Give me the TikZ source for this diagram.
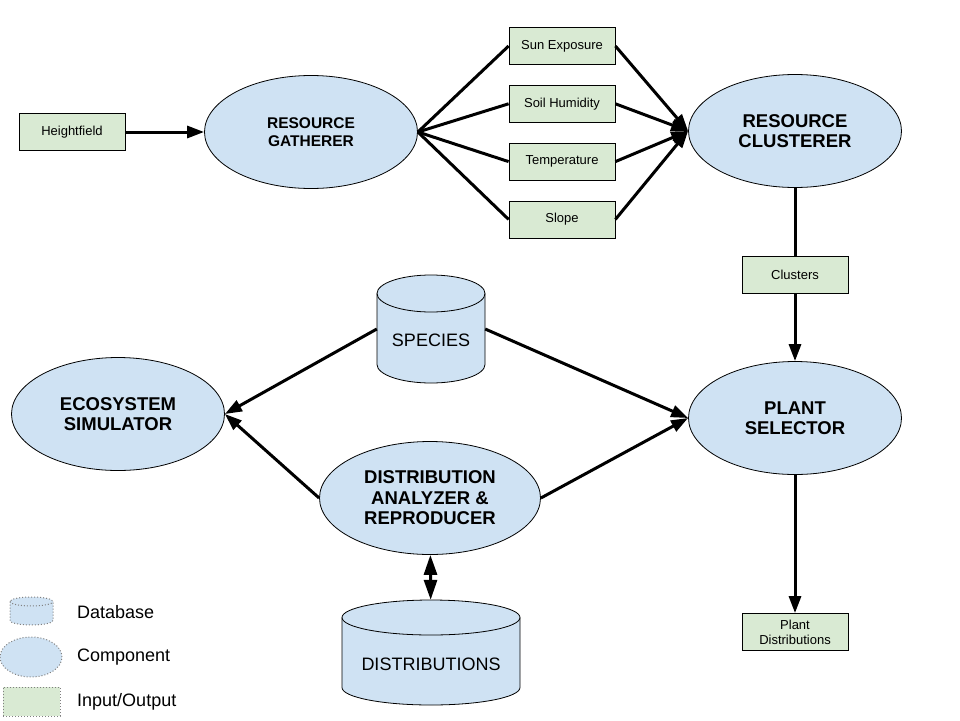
\documentclass[tikz,border=0pt]{standalone}
\usepackage{fontspec}
\setmainfont{Liberation Sans}
\usetikzlibrary{shapes.geometric,arrows.meta,positioning}
\definecolor{compblue}{HTML}{CFE2F3}
\definecolor{iogreen}{HTML}{D9EAD3}
\begin{document}
\begin{tikzpicture}[x=1pt, y=-1pt, node distance=20pt,
  comp/.style={ellipse, draw, line width=0.8pt, fill=compblue, minimum width=213pt, minimum height=113pt, inner sep=0pt, align=center, font=\fontsize{18.5}{20.5}\selectfont\bfseries},
  iobox/.style={rectangle, draw, line width=0.8pt, fill=iogreen, minimum width=106pt, minimum height=37pt, inner sep=0pt, align=center, font=\fontsize{13}{15}\selectfont},
  dbtext/.style={inner sep=0pt, text depth=0pt, font=\fontsize{18}{20}\selectfont},
  cyl/.style={draw, line width=0.8pt, fill=compblue},
  link/.style={line width=3pt},
  flow/.style={line width=3pt, -{Triangle[length=17pt,width=12pt]}},
  twoway/.style={line width=3pt, {Triangle[length=20pt,width=13pt]}-{Triangle[length=20pt,width=13pt]}},
  legend/.style={draw=gray, dotted, line width=1pt, inner sep=0pt},
  legtext/.style={anchor=west, inner sep=0pt, font=\fontsize{18}{20}\selectfont}]

\useasboundingbox (0,0) rectangle (960,720);

% resource pipeline
\node[iobox] (heightfield) at (72,132) {Heightfield};
\node[comp, font=\fontsize{15.5}{18.5}\selectfont\bfseries] (gatherer) at (311,132) {RESOURCE\\GATHERER};
\node[iobox] (sun) at (562,46) {Sun Exposure};
\node[iobox, below=of sun] (soil) {Soil Humidity};
\node[iobox, below=of soil] (temp) {Temperature};
\node[iobox, below=of temp] (slope) {Slope};
\node[comp] (clusterer) at (795,131) {RESOURCE\\CLUSTERER};
\node[iobox] (clusters) at (795,275) {Clusters};
\node[comp] (selector) at (795,418) {PLANT\\SELECTOR};
\node[iobox] (plantdist) at (795,632) {Plant\\Distributions};

% databases (drawn as cylinders, text node on top)
\filldraw[cyl] (377,293.5) -- (377,364.5) arc[start angle=180, end angle=360, x radius=54pt, y radius=18.5pt]
  -- (485,293.5) arc[start angle=0, end angle=180, x radius=54pt, y radius=18.5pt] -- cycle;
\draw[line width=0.8pt] (377,293.5) arc[start angle=180, end angle=360, x radius=54pt, y radius=18.5pt];
\node[dbtext, minimum width=108pt, minimum height=108pt, text height=34pt] (species) at (431,329) {SPECIES};

\filldraw[cyl] (342,617.5) -- (342,687.5) arc[start angle=180, end angle=360, x radius=89pt, y radius=17.5pt]
  -- (520,617.5) arc[start angle=0, end angle=180, x radius=89pt, y radius=17.5pt] -- cycle;
\draw[line width=0.8pt] (342,617.5) arc[start angle=180, end angle=360, x radius=89pt, y radius=17.5pt];
\node[dbtext, minimum width=178pt, minimum height=105pt, text height=35pt] (distdb) at (431,652.5) {DISTRIBUTIONS};

% ecosystem part
\node[comp] (simulator) at (118,414) {ECOSYSTEM\\SIMULATOR};
\node[comp, minimum width=221pt] (analyzer) at (430,498) {DISTRIBUTION\\ANALYZER \&\\REPRODUCER};

% legend
\filldraw[legend, fill=compblue] (10,601.5) -- (10,620.5) arc[start angle=180, end angle=360, x radius=21.5pt, y radius=4.5pt]
  -- (53,601.5) arc[start angle=0, end angle=180, x radius=21.5pt, y radius=4.5pt] -- cycle;
\draw[legend] (10,601.5) arc[start angle=180, end angle=360, x radius=21.5pt, y radius=4.5pt];
\node[legend, ellipse, fill=compblue, minimum width=62pt, minimum height=40pt] (legcomp) at (31,657) {};
\node[legend, rectangle, fill=iogreen, minimum width=57pt, minimum height=29pt] (legio) at (31.5,701.5) {};
\node[legtext] (legdbtxt) at (77,612) {Database};
\node[legtext] (legcomptxt) at (77,657) {Component};
\node[legtext] (legiotxt) at (77,702) {Input/Output};

% connectors
\draw[flow] (heightfield) -- (gatherer);
\foreach \n in {sun,soil,temp,slope} {
  \draw[link] (gatherer.east) -- (\n.west);
  \draw[flow] (\n.east) -- (clusterer.west);
}
\draw[link] (clusterer) -- (clusters);
\draw[flow] (clusters) -- (selector);
\draw[flow] (selector) -- (plantdist);
\draw[flow] (species.west) -- (simulator.east);
\draw[flow] (species.east) -- (selector.west);
\draw[flow] (analyzer.west) -- (simulator.east);
\draw[flow] (analyzer.east) -- (selector.west);
\draw[twoway] (analyzer) -- (distdb);

\end{tikzpicture}
\end{document}
